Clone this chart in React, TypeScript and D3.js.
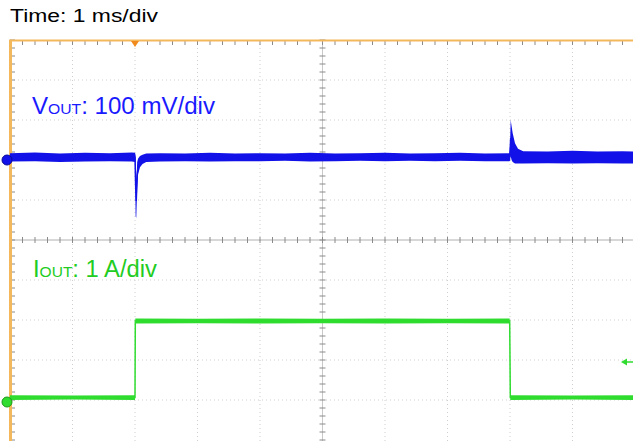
import React from "react";
import * as d3 from "d3";

// Time axis (ms), 1 ms/div, 10 divisions
const timeDivs = [-5, -4, -3, -2, -1, 0, 1, 2, 3, 4, 5];
const vertDivs = [0, 1, 2, 3, 4, 5, 6, 7, 8, 9, 10];

// VOUT envelope (mV deviation, 100 mV/div)
const voutTime = [-5.0, -4.6, -4.2, -3.8, -3.4, -3.05, -3.0, -2.99, -2.98, -2.965, -2.95, -2.92, -2.88, -2.82, -2.6, -2.2, -1.8, -1.4, -1.0, -0.6, -0.2, 0.2, 0.6, 1.0, 1.4, 1.8, 2.2, 2.6, 2.99, 3.0, 3.011, 3.025, 3.043, 3.08, 3.128, 3.21, 3.6, 4.0, 4.4, 4.8, 5.0];
const voutHigh = [17, 19, 16, 18, 17, 19, 18, 12, -60, -5, 4, 10, 13, 16, 17, 16, 18, 16, 17, 16, 18, 16, 17, 18, 16, 17, 18, 16, 17, 35, 100, 85, 67, 42, 28, 22, 21, 23, 21, 22, 21];
const voutLow = [-4, -3, -5, -4, -3, -4, -5, -140, -145, -70, -35, -18, -10, -5, -4, -3, -4, -3, -3, -2, -4, -3, -2, -3, -2, -3, -2, -3, -3, -2, 10, 0, -5, -9, -9, -9, -8, -9, -8, -9, -9];

// IOUT envelope (A, 1 A/div)
const ioutTime = [-5.0, -4.0, -3.0, -2.995, -2.0, -1.0, 0.0, 1.0, 2.0, 2.995, 3.005, 4.0, 5.0];
const ioutHigh = [0.17, 0.16, 0.17, 2.09, 2.08, 2.09, 2.08, 2.09, 2.08, 2.09, 0.17, 0.16, 0.17];
const ioutLow = [0.05, 0.06, 0.05, 1.96, 1.97, 1.96, 1.97, 1.96, 1.97, 1.96, 0.05, 0.06, 0.05];

const W = 633;
const H = 441;

export default function App() {
  const x = d3.scaleLinear().domain([-5, 5]).range([10, 635]);
  const gy = d3.scaleLinear().domain([0, 10]).range([40, 440]);
  const yV = d3.scaleLinear().domain([-700, 300]).range([440, 40]);
  const yI = d3.scaleLinear().domain([-0.95, 9.05]).range([440, 40]);

  const vData = voutTime.map((t, i) => ({ t, hi: voutHigh[i], lo: voutLow[i] }));
  const iData = ioutTime.map((t, i) => ({ t, hi: ioutHigh[i], lo: ioutLow[i] }));

  const vArea = d3.area<any>().x((d) => x(d.t)).y0((d) => yV(d.lo)).y1((d) => yV(d.hi))(vData) || "";
  const vLine = d3.line<any>().x((d) => x(d.t)).y((d) => yV((d.lo + d.hi) / 2))(vData) || "";
  const iArea = d3.area<any>().x((d) => x(d.t)).y0((d) => yI(d.lo)).y1((d) => yI(d.hi))(iData) || "";
  const iLine = d3.line<any>().x((d) => x(d.t)).y((d) => yI((d.lo + d.hi) / 2))(iData) || "";

  const minorX = d3.range(0, 51).map((k) => 10 + k * 12.5);
  const minorY = d3.range(0, 51).map((k) => 40 + k * 8);

  const blue = "#1212e8";
  const green = "#2fdc2f";
  const orange = "#f3b75c";
  const gridCol = "#cfcfcf";
  const tickCol = "#8a8a8a";
  const font = "Liberation Sans, Arial, sans-serif";

  return (
    <svg width={W} height={H} style={{ position: "absolute", left: 0, top: 0, background: "#fff" }}>
      <rect x={0} y={0} width={W} height={H} fill="#fff" />
      {/* dotted grid */}
      {timeDivs.slice(1, -1).filter((t) => t !== 0).map((t) => (
        <line key={"gx" + t} x1={x(t)} x2={x(t)} y1={40} y2={H} stroke={gridCol} strokeWidth={1} strokeDasharray="1 3" />
      ))}
      {vertDivs.slice(1, -1).filter((d) => d !== 5).map((d) => (
        <line key={"gy" + d} x1={10} x2={W} y1={gy(d)} y2={gy(d)} stroke={gridCol} strokeWidth={1} strokeDasharray="1 3" />
      ))}
      {/* center axes */}
      <line x1={10} x2={W} y1={gy(5)} y2={gy(5)} stroke="#b0b0b0" strokeWidth={1} />
      <line x1={x(0)} x2={x(0)} y1={40} y2={H} stroke="#c8c8c8" strokeWidth={1} />
      {minorX.map((mx, i) => (
        <line key={"cx" + i} x1={mx} x2={mx} y1={gy(5) - 3} y2={gy(5) + 3} stroke={tickCol} strokeWidth={1} />
      ))}
      {minorY.map((my, i) => (
        <line key={"cy" + i} x1={x(0) - 3} x2={x(0) + 3} y1={my} y2={my} stroke={tickCol} strokeWidth={1} />
      ))}
      {/* border ticks */}
      {minorX.map((mx, i) => (
        <line key={"tx" + i} x1={mx} x2={mx} y1={40} y2={45} stroke={tickCol} strokeWidth={1} />
      ))}
      {minorY.map((my, i) => (
        <line key={"ly" + i} x1={10} x2={15} y1={my} y2={my} stroke={tickCol} strokeWidth={1} />
      ))}
      <line x1={9} x2={W} y1={40.5} y2={40.5} stroke={orange} strokeWidth={2} />
      <line x1={10.5} x2={10.5} y1={40} y2={H} stroke={orange} strokeWidth={3} />

      {/* traces */}
      <path d={vArea} fill={blue} />
      <path d={vLine} fill="none" stroke={blue} strokeWidth={1.5} />
      <path d={iArea} fill={green} />
      <path d={iLine} fill="none" stroke={green} strokeWidth={1.5} />

      {/* markers */}
      <path d={`M${x(-3) - 4},41 L${x(-3) + 4},41 L${x(-3)},47 Z`} fill="#f08a1c" />
      <circle cx={7} cy={yV(0)} r={5} fill={blue} stroke="#0a0a9a" strokeWidth={1} />
      <circle cx={7} cy={yI(0)} r={5} fill={green} stroke="#1a9a1a" strokeWidth={1} />
      <path d={`M${W - 12},${yI(1.0)} L${W - 6},${yI(1.0) - 3.5} L${W - 6},${yI(1.0) + 3.5} Z`} fill={green} />
      <line x1={W - 7} x2={W} y1={yI(1.0)} y2={yI(1.0)} stroke={green} strokeWidth={1.5} />

      {/* labels */}
      <text x={10} y={22} fontFamily={font} fontSize={18} fill="#000" textLength={148} lengthAdjust="spacingAndGlyphs">Time: 1 ms/div</text>
      <text x={32} y={114} fontFamily={font} fontSize={23} fill="#1a1aff" textLength={183} lengthAdjust="spacingAndGlyphs">
        V<tspan fontSize={15}>OUT</tspan>: 100 mV/div
      </text>
      <text x={33} y={277} fontFamily={font} fontSize={23} fill="#22cc22" textLength={124} lengthAdjust="spacingAndGlyphs">
        I<tspan fontSize={15}>OUT</tspan>: 1 A/div
      </text>
    </svg>
  );
}
